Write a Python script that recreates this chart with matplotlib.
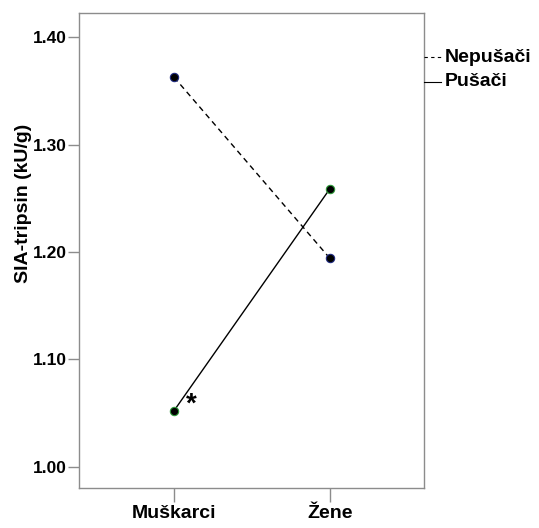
import matplotlib.pyplot as plt

groups = ["Muškarci", "Žene"]
nepusaci = [1.363, 1.194]
pusaci = [1.052, 1.259]
yticks = [1.00, 1.10, 1.20, 1.30, 1.40]

plt.rcParams['font.family'] = ['Liberation Sans', 'DejaVu Sans']

fig = plt.figure(figsize=(5.39, 5.28), dpi=100)
ax = fig.add_axes([0.1466, 0.0758, 0.64, 0.8996])

x = list(range(len(groups)))
ax.plot(x, nepusaci, color='black', lw=1, ls=(0, (4, 3)), zorder=2)
ax.plot(x, pusaci, color='black', lw=1, zorder=2)
ax.scatter(x, nepusaci, s=36, color='black', edgecolors='#1f2a80', linewidths=0.8, zorder=3)
ax.scatter(x, pusaci, s=36, color='black', edgecolors='#2e9a3a', linewidths=0.8, zorder=3)

ax.text(x[0] + 0.075, pusaci[0] + 0.006, "*", fontsize=20, fontweight='bold',
        ha='left', va='center')

ax.set_xlim(-0.609, 1.603)
ax.set_ylim(0.980, 1.4228)
ax.set_xticks(x)
ax.set_xticklabels(groups, fontsize=14, fontweight='bold')
ax.set_yticks(yticks)
ax.set_yticklabels([f"{v:.2f}" for v in yticks], fontsize=12.5, fontweight='bold')
ax.set_ylabel("SIA-tripsin (kU/g)", fontsize=14, fontweight='bold')
ax.yaxis.set_label_coords(-0.137, 0.60)

for s in ax.spines.values():
    s.set_color('#8c8c8c')
    s.set_linewidth(1)
ax.tick_params(axis='y', color='#8c8c8c', length=8, width=1, pad=1)
ax.tick_params(axis='x', color='#8c8c8c', length=10, width=1, pad=2)

# legend outside on the right
fig.add_artist(plt.Line2D([0.787, 0.818], [1 - 57 / 528] * 2, color='black',
                          lw=0.8, ls=(0, (3, 3))))
fig.add_artist(plt.Line2D([0.787, 0.818], [1 - 82 / 528] * 2, color='black', lw=0.8))
fig.text(0.826, 1 - 57 / 528, "Nepušači", fontsize=14, fontweight='bold', va='center')
fig.text(0.826, 1 - 82 / 528, "Pušači", fontsize=14, fontweight='bold', va='center')

fig.savefig("out.png", dpi=100)
